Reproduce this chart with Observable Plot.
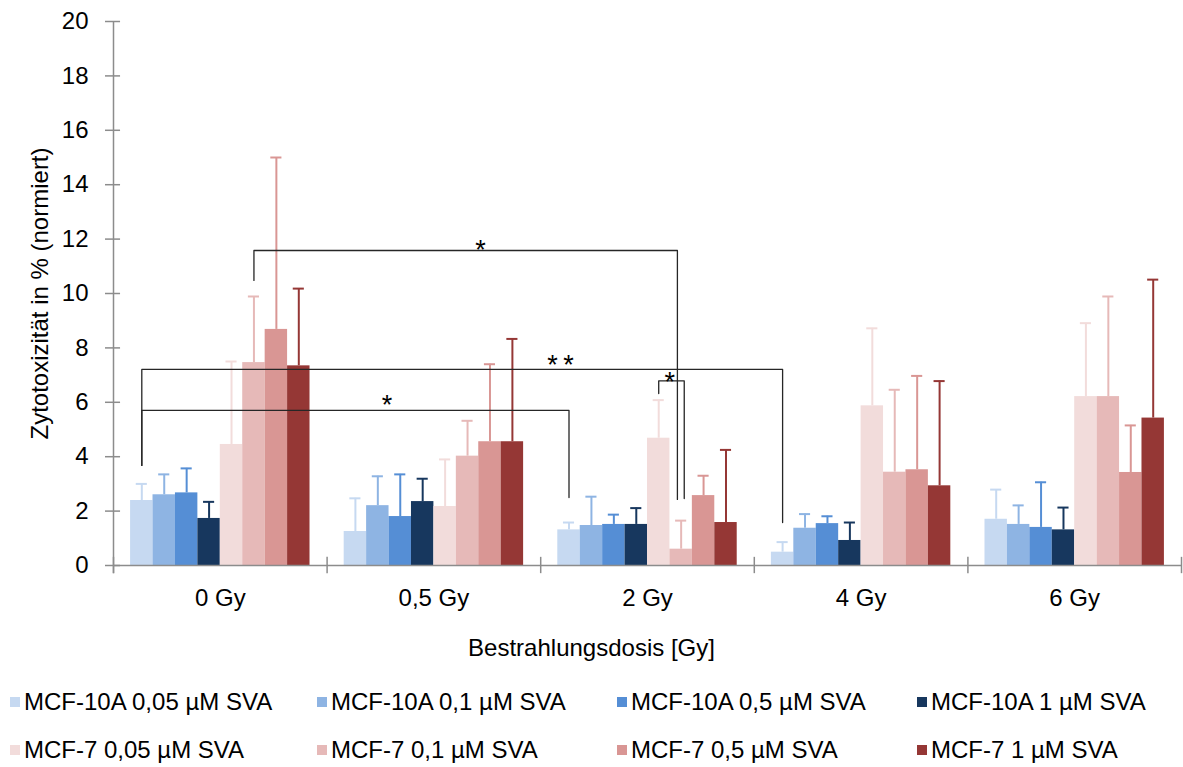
<!DOCTYPE html>
<html>
<head>
<meta charset="utf-8">
<script src="https://cdn.jsdelivr.net/npm/d3@7"></script>
<script src="https://cdn.jsdelivr.net/npm/@observablehq/plot@0.6"></script>
<style>
  html, body { margin: 0; padding: 0; background: #fff; }
  #wrap { position: relative; width: 1183px; height: 767px; font-family: "Liberation Sans", Arial, sans-serif; color: #000; }
  #chart { position: absolute; left: 0; top: 0; }
  #xtitle { position: absolute; left: 0; width: 1183px; top: 634px; text-align: center; font-size: 24px; line-height: 28px; }
  .leg { position: absolute; font-size: 24px; line-height: 28px; white-space: nowrap; }
  .sw { display: inline-block; width: 10px; height: 10px; margin-right: 4px; vertical-align: 3px; }
</style>
</head>
<body>
<div id="wrap">
  <div id="chart"></div>
  <div id="xtitle"></div>
  <div id="legend"></div>
</div>
<script>
// ---- Data ----
const doses = ["0 Gy", "0,5 Gy", "2 Gy", "4 Gy", "6 Gy"];
const series = [
  "MCF-10A 0,05 µM SVA", "MCF-10A 0,1 µM SVA", "MCF-10A 0,5 µM SVA", "MCF-10A 1 µM SVA",
  "MCF-7 0,05 µM SVA", "MCF-7 0,1 µM SVA", "MCF-7 0,5 µM SVA", "MCF-7 1 µM SVA"
];
const colors = ["#c6d9f1", "#8eb4e3", "#558ed5", "#17375e", "#f2dcdb", "#e6b9b8", "#d99694", "#953735"];

const mean0Gy  = [2.39, 2.60, 2.67, 1.73, 4.45, 7.46, 8.68, 7.34];
const mean05Gy = [1.25, 2.20, 1.80, 2.35, 2.17, 4.02, 4.55, 4.55];
const mean2Gy  = [1.31, 1.47, 1.51, 1.51, 4.68, 0.60, 2.57, 1.58];
const mean4Gy  = [0.49, 1.37, 1.54, 0.92, 5.87, 3.43, 3.52, 2.93];
const mean6Gy  = [1.70, 1.51, 1.40, 1.31, 6.21, 6.21, 3.42, 5.42];

const sd0Gy  = [0.61, 0.75, 0.90, 0.61, 3.05, 2.43, 6.32, 2.84];
const sd05Gy = [1.22, 1.08, 1.55, 0.84, 1.73, 1.30, 2.85, 3.78];
const sd2Gy  = [0.27, 1.06, 0.36, 0.60, 1.40, 1.05, 0.73, 2.67];
const sd4Gy  = [0.37, 0.52, 0.27, 0.66, 2.85, 3.03, 3.45, 3.85];
const sd6Gy  = [1.09, 0.70, 1.66, 0.82, 2.70, 3.68, 1.73, 5.09];

const yTicks = [0, 2, 4, 6, 8, 10, 12, 14, 16, 18, 20];
const yLabel = "Zytotoxizität in % (normiert)";
const xLabel = "Bestrahlungsdosis [Gy]";

// significance brackets (x in group units, y in data units)
const sigLabels   = ["*", "**", "*", "*"];
const sigX1       = [0.6575, 0.1325, 0.1325, 2.5525];
const sigX2       = [2.64, 3.1325, 2.1325, 2.672];
const sigTop      = [11.58, 7.21, 5.70, 6.79];
const sigLeftEnd  = [10.48, 3.68, 3.68, 6.32];
const sigRightEnd = [2.43, 1.58, 2.50, 2.46];
const sigTextX    = [1.718, 2.093, 1.281, 2.604];
const sigTextY    = [11.57, 7.34, 5.87, 6.73];

// ---- Build table ----
const means = [mean0Gy, mean05Gy, mean2Gy, mean4Gy, mean6Gy];
const sds = [sd0Gy, sd05Gy, sd2Gy, sd4Gy, sd6Gy];
const groupInset = 0.08;
const barW = (1 - 2 * groupInset) / series.length;
const capHalf = 0.026;

const rows = doses.flatMap((dose, g) => series.map((s, i) => {
  const x1 = g + groupInset + i * barW;
  return {dose, series: s, g, i, mean: means[g][i], sd: sds[g][i], x1, x2: x1 + barW, xc: x1 + barW / 2};
}));

const brackets = sigLabels.flatMap((lab, k) => [
  {k, x: sigX1[k], y: sigLeftEnd[k]},
  {k, x: sigX1[k], y: sigTop[k]},
  {k, x: sigX2[k], y: sigTop[k]},
  {k, x: sigX2[k], y: sigRightEnd[k]}
]);
const sigText = sigLabels.map((t, k) => ({t: t.split("").join("\u2009"), x: sigTextX[k], y: sigTextY[k]}));

const axisGray = "#8c8c8c";

const plot = Plot.plot({
  width: 1183,
  height: 620,
  marginLeft: 113,
  marginRight: 2,
  marginTop: 21,
  marginBottom: 55,
  style: {fontFamily: "'Liberation Sans', Arial, sans-serif", fontSize: "24px", color: "#000", background: "#fff"},
  x: {domain: [0, doses.length], axis: null},
  y: {domain: [0, 20], axis: null},
  color: {domain: series, range: colors},
  marks: [
    // y axis
    Plot.ruleY(yTicks, {x1: -0.0375, x2: 0.033, stroke: axisGray, strokeWidth: 1.5}),
    Plot.text(yTicks, {x: 0, y: d => d, text: d => String(d), dx: -25, textAnchor: "end", fontSize: 24, fill: "#000"}),
    Plot.ruleX([0], {y1: -0.3, y2: 20, stroke: axisGray, strokeWidth: 1.5}),
    Plot.text([yLabel], {x: 0, y: 10, dx: -73, rotate: -90, text: d => d, fontSize: 24, fill: "#000"}),
    // bars
    Plot.rect(rows, {x1: "x1", x2: "x2", y1: 0, y2: "mean", fill: "series"}),
    // error bars
    Plot.ruleX(rows, {x: "xc", y1: "mean", y2: d => d.mean + d.sd, stroke: "series", strokeWidth: 2}),
    Plot.ruleY(rows, {x1: d => d.xc - capHalf, x2: d => d.xc + capHalf, y: d => d.mean + d.sd, stroke: "series", strokeWidth: 2}),
    // x axis
    Plot.ruleY([0], {stroke: axisGray, strokeWidth: 1.5}),
    Plot.ruleX(d3.range(doses.length + 1), {y1: -0.3, y2: 0.3, stroke: axisGray, strokeWidth: 1.5}),
    Plot.text(doses, {x: (d, i) => i + 0.5, y: 0, dy: 33, text: d => d, fontSize: 24, fill: "#000"}),
    // significance
    Plot.line(brackets, {x: "x", y: "y", z: "k", stroke: "#262626", strokeWidth: 1.3, curve: "linear"}),
    Plot.text(sigText, {x: "x", y: "y", text: "t", fontSize: 27, fill: "#000"})
  ]
});
document.getElementById("chart").appendChild(plot);
document.getElementById("xtitle").textContent = xLabel;

// legend
const legCols = [10, 317, 617, 917];
const legRows = [688, 736];
const legend = document.getElementById("legend");
series.forEach((s, i) => {
  const div = document.createElement("div");
  div.className = "leg";
  div.style.left = legCols[i % 4] + "px";
  div.style.top = legRows[Math.floor(i / 4)] + "px";
  const sw = document.createElement("span");
  sw.className = "sw";
  sw.style.background = colors[i];
  div.appendChild(sw);
  div.appendChild(document.createTextNode(s));
  legend.appendChild(div);
});
</script>
</body>
</html>
